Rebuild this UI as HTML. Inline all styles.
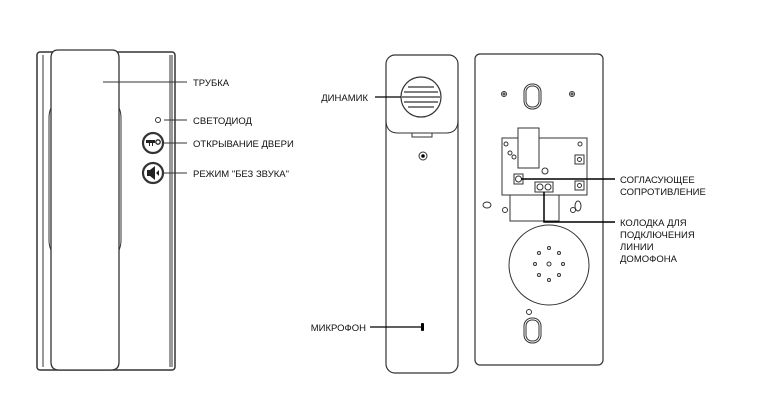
<!DOCTYPE html>
<html><head><meta charset="utf-8"><style>
html,body{margin:0;padding:0;background:#fff}
svg{display:block}
text{font-family:"Liberation Sans",sans-serif;font-size:9.5px;fill:#111}
</style></head><body>
<svg width="765" height="411" viewBox="0 0 765 411" xmlns="http://www.w3.org/2000/svg">
<g fill="none" stroke="#333" stroke-width="1">
<!-- left device -->
<rect x="37" y="52" width="138" height="318" rx="3" stroke-width="1.5"/>
<line x1="43" y1="55" x2="43" y2="367"/>
<line x1="170" y1="55" x2="170" y2="367"/>
<line x1="172" y1="55" x2="172" y2="367"/>
<path d="M58 50 H112 Q119 50 119 58 V362 Q119 370 111 370 H59 Q51 370 51 362 V58 Q51 50 58 50 Z" fill="#fff" stroke-width="1.3"/>
<path d="M51 108 Q49 112 49 118 V240 Q49 246 51 250" />
<path d="M119 108 Q121 112 121 118 V240 Q121 246 119 250" />
<line x1="103" y1="82" x2="187" y2="82"/>
<circle cx="158" cy="120" r="2.5"/>
<line x1="164" y1="120" x2="187" y2="120"/>
<circle cx="153" cy="143" r="10" stroke-width="2.2" fill="#fff"/>
<line x1="164" y1="143" x2="187" y2="143"/>
<circle cx="153" cy="173" r="10" stroke-width="2.2" fill="#fff"/>
<line x1="164" y1="173" x2="187" y2="173"/>
<!-- handset -->
<rect x="386" y="55" width="72" height="318" rx="9" stroke-width="1.2"/>
<path d="M386 120 Q386 133 398 133 H446 Q458 133 458 120" />
<rect x="412" y="133" width="20" height="4"/>
<circle cx="421" cy="97" r="20" stroke-width="1.2"/>
<line x1="375" y1="97" x2="401" y2="97" stroke="#000" stroke-width="1.3"/>
<line x1="370" y1="327" x2="422" y2="327" stroke="#000" stroke-width="1.3"/>
<!-- back panel -->
<rect x="475" y="54" width="128" height="311" rx="5" stroke-width="1.2"/>
<rect x="526" y="86" width="13" height="21" rx="6"/>
<rect x="524" y="84" width="17" height="25" rx="8"/>
<rect x="526" y="320" width="13" height="21" rx="6"/>
<rect x="524" y="318" width="17" height="25" rx="8"/>
<circle cx="504" cy="94" r="2.5"/><circle cx="504" cy="94" r="1"/>
<circle cx="572" cy="94" r="2.5"/><circle cx="572" cy="94" r="1"/>
<circle cx="529" cy="312" r="2.5"/>
<rect x="502" y="138" width="85" height="57"/>
<rect x="518" y="128" width="21" height="40" fill="#fff"/>
<circle cx="506" cy="144" r="2"/><circle cx="510" cy="153" r="2"/><circle cx="514" cy="157" r="2"/>
<circle cx="580" cy="144" r="2"/><circle cx="545" cy="171" r="3"/>
<rect x="575" y="155" width="9" height="9"/><circle cx="579.5" cy="159.5" r="2"/>
<rect x="575" y="181" width="9" height="9"/><circle cx="579.5" cy="185.5" r="2"/>
<rect x="514" y="174" width="9" height="10"/><circle cx="518.5" cy="179" r="3"/>
<rect x="535" y="182" width="18" height="10"/><circle cx="540" cy="187" r="3"/><circle cx="548" cy="187" r="3"/>
<rect x="510" y="195" width="49" height="26"/>
<ellipse cx="487" cy="205" rx="4" ry="3"/>
<circle cx="505" cy="210" r="2.5"/><circle cx="573" cy="210" r="2.5"/>
<ellipse cx="578" cy="206" rx="3" ry="5"/>
<circle cx="549" cy="265" r="40"/>
<g fill="none">
<circle cx="549" cy="248" r="1.5"/><circle cx="539" cy="253" r="1.5"/><circle cx="559" cy="253" r="1.5"/>
<circle cx="535" cy="264" r="1.5"/><circle cx="549" cy="264" r="2"/><circle cx="563" cy="264" r="1.5"/>
<circle cx="539" cy="275" r="1.5"/><circle cx="559" cy="275" r="1.5"/><circle cx="549" cy="280" r="1.5"/>
</g>
<polyline points="521,179 615,179" stroke="#000" stroke-width="1.5"/>
<polyline points="544,192 544,222 615,222" stroke="#000" stroke-width="1.5"/>
</g>
<g fill="#000">
<circle cx="423" cy="156" r="4" fill="none" stroke="#333"/><circle cx="423" cy="156" r="1.8"/>
<rect x="421" y="323" width="3" height="8" rx="1"/>
</g>
<g stroke="#333" stroke-width="1.3">
<line x1="408" y1="87" x2="434" y2="87"/><line x1="404" y1="92" x2="438" y2="92"/>
<line x1="402" y1="97" x2="440" y2="97"/><line x1="404" y1="102" x2="438" y2="102"/>
<line x1="408" y1="107" x2="434" y2="107"/>
</g>
<g fill="#222">
<path d="M146 140 h9 v3 h-2 v3 h-1 v-3 h-2 v3 h-1 v-3 h-3 z"/>
<circle cx="158" cy="142" r="2.2" fill="none" stroke="#222" stroke-width="1.3"/>
<path d="M147 170 h3 l5 -4 v14 l-5 -4 h-3 z"/>
<path d="M156 173 l3 -3 v6 z"/>
</g>
<text x="193" y="86">ТРУБКА</text>
<text x="193" y="124">СВЕТОДИОД</text>
<text x="193" y="147">ОТКРЫВАНИЕ ДВЕРИ</text>
<text x="193" y="177">РЕЖИМ "БЕЗ ЗВУКА"</text>
<text x="368" y="101" text-anchor="end">ДИНАМИК</text>
<text x="366" y="331" text-anchor="end">МИКРОФОН</text>
<text x="620" y="183">СОГЛАСУЮЩЕЕ</text>
<text x="620" y="195">СОПРОТИВЛЕНИЕ</text>
<text x="620" y="226">КОЛОДКА ДЛЯ</text>
<text x="620" y="238">ПОДКЛЮЧЕНИЯ</text>
<text x="620" y="250">ЛИНИИ</text>
<text x="620" y="262">ДОМОФОНА</text>
</svg>
</body></html>
